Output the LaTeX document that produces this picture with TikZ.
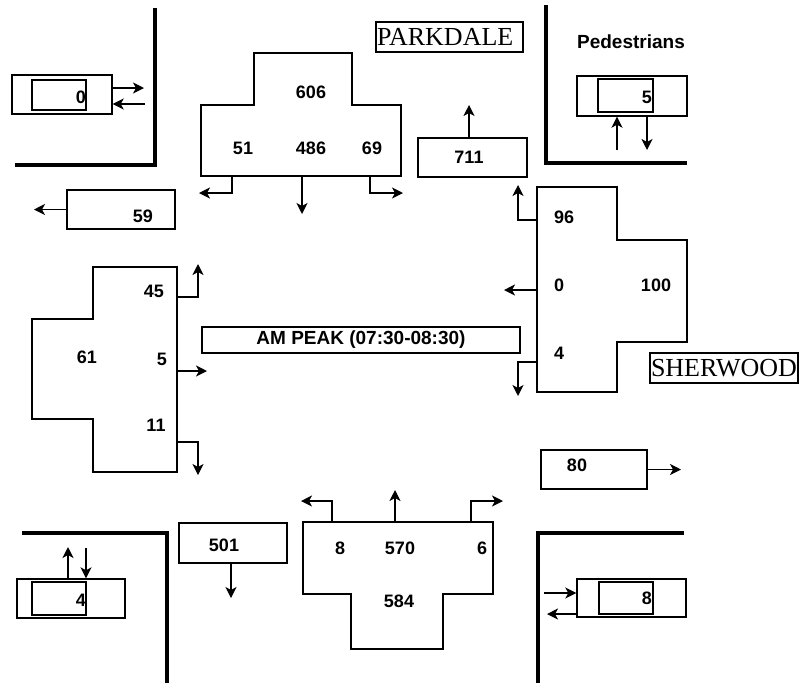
\documentclass[tikz,border=0pt]{standalone}
\usepackage{fontspec}
\setmainfont{Liberation Serif}
\setsansfont{Liberation Sans}
\usetikzlibrary{arrows.meta}
\begin{document}
\begin{tikzpicture}[x=1pt,y=-1pt,
  thin/.style={line width=1.4pt},
  wall/.style={line width=3.4pt},
  arr/.style={line width=1.4pt,-{Stealth[length=11pt,width=11pt,inset=3pt]}},
  box/.style={draw,line width=1.4pt,inner sep=0pt},
  num/.style={font=\sffamily\bfseries\fontsize{18}{20}\selectfont,inner sep=0pt},
  street/.style={draw,line width=1.4pt,inner xsep=1pt,inner ysep=0pt,align=left,font=\fontsize{26}{28}\selectfont}]
\useasboundingbox (0,0) rectangle (799,683);
% walls
\draw[wall] (155,8) -- (155,165) -- (15,165);
\draw[wall] (546,5) -- (546,163) -- (687,163);
\draw[wall] (22,533) -- (167,533) -- (167,683);
\draw[wall] (684,533) -- (538,533) -- (538,683);
% street names
\node[street,text width=145pt,minimum height=30pt] (park) at (449.5,37) {PARKDALE};
\node[street,text width=146pt,minimum height=30pt] (sher) at (724,368) {SHERWOOD};
\node[box,minimum width=318pt,minimum height=26pt,font=\sffamily\bfseries\fontsize{19}{21}\selectfont] (peak) at (361,340) {AM PEAK (07:30-08:30)};
\node[num,font=\sffamily\bfseries\fontsize{19}{21}\selectfont] (ped) at (631,42) {Pedestrians};
% pedestrian boxes
\node[box,minimum width=100pt,minimum height=39pt] (pTLo) at (62,94.5) {};
\node[box,minimum width=54pt,minimum height=30pt] (pTLi) at (59,95) {};
\node[num,anchor=east] (pTLn) at (86,97) {0};
\coordinate (tlR) at (144,88);
\coordinate (tlL) at (145,104);
\draw[arr] (pTLo.east|-tlR) -- (tlR);
\draw[arr] (tlL) -- (pTLo.east|-tlL);
\node[box,minimum width=110pt,minimum height=40pt] (pTRo) at (632,96) {};
\node[box,minimum width=55pt,minimum height=33pt] (pTRi) at (625.5,95.5) {};
\node[num,anchor=east] (pTRn) at (652,97) {5};
\coordinate (trU) at (617,150);
\coordinate (trD) at (647,150);
\draw[arr] (trU) -- (pTRo.south-|trU);
\draw[arr] (pTRo.south-|trD) -- (trD);
\node[box,minimum width=108pt,minimum height=39pt] (pBLo) at (71,598.5) {};
\node[box,minimum width=54pt,minimum height=33pt] (pBLi) at (59,598.5) {};
\node[num,anchor=east] (pBLn) at (86,600) {4};
\coordinate (blU) at (68,547);
\coordinate (blD) at (86,548);
\draw[arr] (pBLo.north-|blU) -- (blU);
\draw[arr] (blD) -- (pBLo.north-|blD);
\node[box,minimum width=109pt,minimum height=38pt] (pBRo) at (631.5,598) {};
\node[box,minimum width=54pt,minimum height=32pt] (pBRi) at (626,598) {};
\node[num,anchor=east] (pBRn) at (652,598) {8};
\coordinate (brR) at (544,593);
\coordinate (brL) at (547,614);
\draw[arr] (brR) -- (pBRo.west|-brR);
\draw[arr] (pBRo.west|-brL) -- (brL);
% exit boxes
\node[box,minimum width=108pt,minimum height=39pt] (b59) at (121,209.5) {};
\node[num] (n59) at (143,216) {59};
\coordinate (e59) at (34,209.5);
\draw[arr] (b59.west) -- (e59);
\node[box,minimum width=109pt,minimum height=39pt] (b711) at (472.5,157.5) {};
\node[num] (n711) at (469,157) {711};
\coordinate (e711) at (469,105);
\draw[arr] (b711.north-|e711) -- (e711);
\node[box,minimum width=106pt,minimum height=39pt] (b80) at (594,469.5) {};
\node[num] (n80) at (577,465) {80};
\coordinate (e80) at (681,469.5);
\draw[arr] (b80.east) -- (e80);
\node[box,minimum width=108pt,minimum height=40pt] (b501) at (233,543) {};
\node[num] (n501) at (224,545) {501};
\coordinate (e501) at (231,598);
\draw[arr] (b501.south-|e501) -- (e501);
% north approach (southbound)
\draw[thin] (254,53) -- (352,53) -- (352,105) -- (401,105) -- (401,176) -- (201,176) -- (201,105) -- (254,105) -- cycle;
\node[num] (n606) at (311,92) {606};
\node[num] (n51) at (243,148) {51};
\node[num] (n486) at (311,148) {486};
\node[num] (n69) at (372,148) {69};
\coordinate (sL0) at (232,176); \coordinate (sL) at (199,193);
\coordinate (sT0) at (302,176); \coordinate (sT) at (302,214);
\coordinate (sR0) at (370,176); \coordinate (sR) at (403,193);
\draw[arr] (sL0) |- (sL);
\draw[arr] (sT0) -- (sT);
\draw[arr] (sR0) |- (sR);
% east approach (westbound)
\draw[thin] (537,187) -- (617,187) -- (617,240) -- (687,240) -- (687,342) -- (617,342) -- (617,392) -- (537,392) -- cycle;
\node[num] (n96) at (564,217) {96};
\node[num] (n0) at (559,285) {0};
\node[num] (n100) at (656,285) {100};
\node[num] (n4) at (559,353) {4};
\coordinate (wR0) at (537,220); \coordinate (wR) at (518,185);
\coordinate (wT0) at (537,290); \coordinate (wT) at (504,290);
\coordinate (wL0) at (537,362); \coordinate (wL) at (518,396);
\draw[arr] (wR0) -| (wR);
\draw[arr] (wT0) -- (wT);
\draw[arr] (wL0) -| (wL);
% west approach (eastbound)
\draw[thin] (93,267) -- (177,267) -- (177,472) -- (93,472) -- (93,419) -- (32,419) -- (32,319) -- (93,319) -- cycle;
\node[num] (n45) at (154,291) {45};
\node[num] (n61) at (87,357) {61};
\node[num] (n5) at (162,359) {5};
\node[num] (n11) at (156,425) {11};
\coordinate (eL0) at (177,297); \coordinate (eL) at (198,264);
\coordinate (eT0) at (177,371); \coordinate (eT) at (207,371);
\coordinate (eR0) at (177,442); \coordinate (eR) at (198,475);
\draw[arr] (eL0) -| (eL);
\draw[arr] (eT0) -- (eT);
\draw[arr] (eR0) -| (eR);
% south approach (northbound)
\draw[thin] (303,522) -- (493,522) -- (493,594) -- (443,594) -- (443,649) -- (351,649) -- (351,594) -- (303,594) -- cycle;
\node[num] (n8) at (340,548) {8};
\node[num] (n570) at (400,548) {570};
\node[num] (n6) at (482,548) {6};
\node[num] (n584) at (399,601) {584};
\coordinate (nL0) at (332,522); \coordinate (nL) at (301,501);
\coordinate (nT0) at (395,522); \coordinate (nT) at (395,490);
\coordinate (nR0) at (471,522); \coordinate (nR) at (503,501);
\draw[arr] (nL0) |- (nL);
\draw[arr] (nT0) -- (nT);
\draw[arr] (nR0) |- (nR);
\end{tikzpicture}
\end{document}
